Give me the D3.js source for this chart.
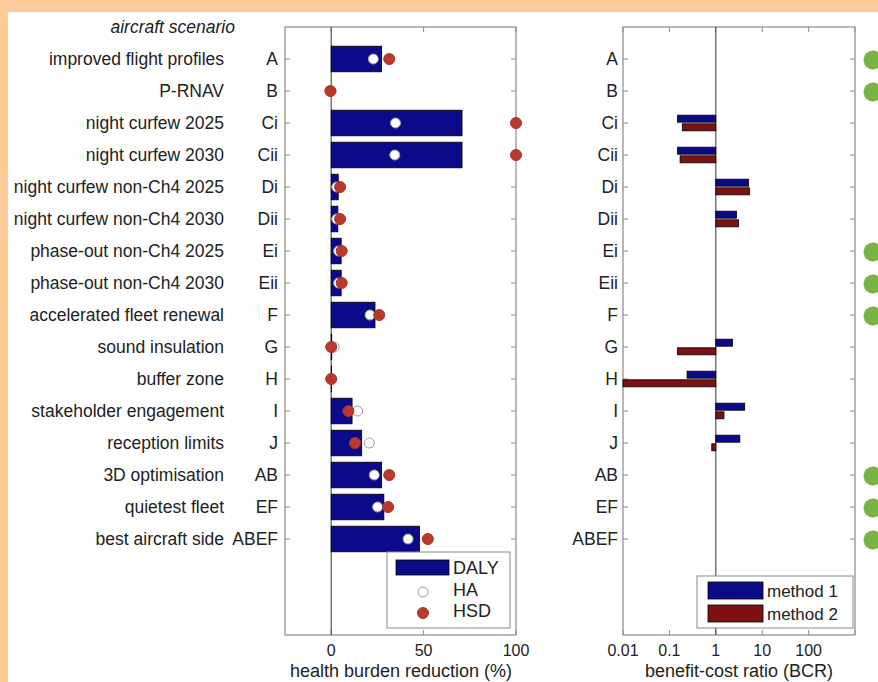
<!DOCTYPE html>
<html>
<head>
<meta charset="utf-8">
<script src="https://cdn.jsdelivr.net/npm/d3@7"></script>
<style>
  html, body { margin: 0; padding: 0; background: #FFCC99; }
  svg { display: block; }
  text { font-family: "Liberation Sans", Arial, Helvetica, sans-serif; fill: #222; }
</style>
</head>
<body>
<svg id="chart" width="878" height="682"></svg>
<script>
// ---------- data ----------
const codes = ['A','B','Ci','Cii','Di','Dii','Ei','Eii','F','G','H','I','J','AB','EF','ABEF'];
const names = ['improved flight profiles','P-RNAV','night curfew 2025','night curfew 2030',
  'night curfew non-Ch4 2025','night curfew non-Ch4 2030','phase-out non-Ch4 2025','phase-out non-Ch4 2030',
  'accelerated fleet renewal','sound insulation','buffer zone','stakeholder engagement',
  'reception limits','3D optimisation','quietest fleet','best aircraft side'];
const daly = [27.3, 0, 70.8, 70.8, 3.8, 3.6, 5.4, 5.4, 23.7, 0.3, 0.2, 11.3, 16.5, 27.3, 28.5, 47.8];
const ha   = [22.8, 0, 34.8, 34.4, 3.0, 3.0, 4.0, 4.0, 21.0, 1.6, 0, 14.3, 20.6, 23.3, 25.1, 41.6];
const hsd  = [31.4, -0.5, 100, 100, 4.8, 4.8, 5.7, 5.7, 26.0, 0, 0, 9.3, 12.9, 31.4, 30.8, 52.3];
const bcr1 = [null, null, 0.15, 0.15, 5.1, 2.8, null, null, null, 2.3, 0.24, 4.2, 3.3, null, null, null];
const bcr2 = [null, null, 0.19, 0.17, 5.3, 3.1, null, null, null, 0.15, 0.01, 1.5, 0.82, null, null, null];
const greenMarks = ['A','B','Ei','Eii','F','AB','EF','ABEF'];
const leftTicks = [0, 50, 100];
const rightTicks = [0.01, 0.1, 1, 10, 100, 1000];
const rightTickLabels = ['0.01','0.1','1','10','100',''];
const legend1 = ['DALY','HA','HSD'];
const legend2 = ['method 1','method 2'];

// ---------- styles ----------
const C = {
  navy: '#0b0b8a', dred: '#7e1010', hsd: '#b83a2e', axis: '#8a8a8a',
  zero: '#555', green: '#78b444', haEdge: '#9a9a9a'
};
const FS = 17.5;
const FT = 16;
const FA = 18;

const svg = d3.select('#chart');
svg.append('rect').attr('x', 8).attr('y', 12).attr('width', 870).attr('height', 670).attr('fill', '#fff');

const yS = d3.scaleLinear().domain([0, 19]).range([27, 635]);
const idx = d3.range(codes.length);
const yc = i => yS(i + 1);
const unit = yS(1) - yS(0);

function frame(g, x0, x1, y0, y1) {
  g.append('rect').attr('x', x0).attr('y', y0).attr('width', x1 - x0).attr('height', y1 - y0)
    .attr('fill', 'none').attr('stroke', C.axis).attr('stroke-width', 1.2);
  idx.forEach(i => {
    const y = yc(i);
    g.append('line').attr('x1', x0).attr('x2', x0 + 5).attr('y1', y).attr('y2', y).attr('stroke', C.axis);
    g.append('line').attr('x1', x1 - 5).attr('x2', x1).attr('y1', y).attr('y2', y).attr('stroke', C.axis);
  });
}

// ---------- left panel ----------
const xL = d3.scaleLinear().domain([-25, 100]).range([285, 516]);
const gL = svg.append('g');
frame(gL, xL.range()[0], xL.range()[1], yS(0), yS(19));
leftTicks.forEach(t => {
  gL.append('line').attr('x1', xL(t)).attr('x2', xL(t)).attr('y1', yS(0)).attr('y2', yS(0) + 5).attr('stroke', C.axis);
  gL.append('line').attr('x1', xL(t)).attr('x2', xL(t)).attr('y1', yS(19)).attr('y2', yS(19) - 5).attr('stroke', C.axis);
  gL.append('text').attr('x', xL(t)).attr('y', 656).attr('text-anchor', 'middle').attr('font-size', FT).text(t);
});
gL.append('line').attr('x1', xL(0)).attr('x2', xL(0)).attr('y1', yS(0)).attr('y2', yS(19))
  .attr('stroke', C.zero).attr('stroke-width', 1.2);

gL.selectAll('rect.daly').data(idx).join('rect').attr('class', 'daly')
  .attr('x', i => Math.min(xL(0), xL(daly[i])))
  .attr('width', i => Math.abs(xL(daly[i]) - xL(0)))
  .attr('y', i => yc(i) - 0.4 * unit).attr('height', 0.8 * unit)
  .attr('fill', C.navy).attr('stroke', '#000').attr('stroke-width', 0.8);
gL.selectAll('circle.ha').data(idx).join('circle').attr('class', 'ha')
  .attr('cx', i => xL(ha[i])).attr('cy', i => yc(i)).attr('r', 5)
  .attr('fill', '#fff').attr('stroke', C.haEdge).attr('stroke-width', 1);
gL.selectAll('circle.hsd').data(idx).join('circle').attr('class', 'hsd')
  .attr('cx', i => xL(hsd[i])).attr('cy', i => yc(i)).attr('r', 5.5)
  .attr('fill', C.hsd).attr('stroke', '#a8342a').attr('stroke-width', 1);

svg.selectAll('text.code').data(idx).join('text').attr('class', 'code')
  .attr('x', 278).attr('y', i => yc(i) + 6).attr('text-anchor', 'end').attr('font-size', FS).text(i => codes[i]);
svg.selectAll('text.name').data(idx).join('text').attr('class', 'name')
  .attr('x', 224).attr('y', i => yc(i) + 6).attr('text-anchor', 'end').attr('font-size', FS).text(i => names[i]);
svg.append('text').attr('x', 235).attr('y', 33).attr('text-anchor', 'end').attr('font-size', 17.5)
  .attr('font-style', 'italic').text('aircraft scenario');
svg.append('text').attr('x', 401).attr('y', 677).attr('text-anchor', 'middle').attr('font-size', FA)
  .text('health burden reduction (%)');

// left legend
const lg = svg.append('g');
lg.append('rect').attr('x', 387).attr('y', 552).attr('width', 123).attr('height', 76)
  .attr('fill', '#fff').attr('stroke', C.axis).attr('stroke-width', 1);
lg.append('rect').attr('x', 396).attr('y', 560).attr('width', 53).attr('height', 15)
  .attr('fill', C.navy).attr('stroke', '#000').attr('stroke-width', 0.8);
lg.append('circle').attr('cx', 423).attr('cy', 592).attr('r', 5).attr('fill', '#fff').attr('stroke', C.haEdge);
lg.append('circle').attr('cx', 423).attr('cy', 613).attr('r', 5.5).attr('fill', C.hsd).attr('stroke', '#a8342a');
legend1.forEach((t, k) => {
  lg.append('text').attr('x', 453).attr('y', 574 + k * 21.5).attr('font-size', 18).text(t);
});

// ---------- right panel ----------
const xR = d3.scaleLog().domain([0.01, 1000]).range([623, 855]);
const gR = svg.append('g');
frame(gR, xR.range()[0], xR.range()[1], yS(0), yS(19));
rightTicks.forEach((t, k) => {
  gR.append('line').attr('x1', xR(t)).attr('x2', xR(t)).attr('y1', yS(0)).attr('y2', yS(0) + 5).attr('stroke', C.axis);
  gR.append('line').attr('x1', xR(t)).attr('x2', xR(t)).attr('y1', yS(19)).attr('y2', yS(19) - 5).attr('stroke', C.axis);
  gR.append('text').attr('x', xR(t)).attr('y', 656).attr('text-anchor', 'middle').attr('font-size', FT).text(rightTickLabels[k]);
});
gR.append('line').attr('x1', xR(1)).attr('x2', xR(1)).attr('y1', yS(0)).attr('y2', yS(19))
  .attr('stroke', C.zero).attr('stroke-width', 1.2);

const series = [{v: bcr1, c: C.navy, off: -0.135}, {v: bcr2, c: C.dred, off: 0.135}];
series.forEach(s => {
  gR.selectAll(null).data(idx.filter(i => s.v[i] != null)).join('rect')
    .attr('x', i => Math.min(xR(1), xR(s.v[i])))
    .attr('width', i => Math.abs(xR(s.v[i]) - xR(1)))
    .attr('y', i => yS(i + 1 + s.off) - 0.11 * unit).attr('height', 0.22 * unit)
    .attr('fill', s.c).attr('stroke', '#000').attr('stroke-width', 0.8);
});

svg.selectAll('text.code2').data(idx).join('text').attr('class', 'code2')
  .attr('x', 618).attr('y', i => yc(i) + 6).attr('text-anchor', 'end').attr('font-size', FS).text(i => codes[i]);
svg.append('text').attr('x', 739).attr('y', 677).attr('text-anchor', 'middle').attr('font-size', FA)
  .text('benefit-cost ratio (BCR)');

// right legend
const rg = svg.append('g');
rg.append('rect').attr('x', 697).attr('y', 576).attr('width', 156).attr('height', 52)
  .attr('fill', '#fff').attr('stroke', C.axis).attr('stroke-width', 1);
legend2.forEach((t, k) => {
  rg.append('rect').attr('x', 708).attr('y', 582 + k * 23).attr('width', 55).attr('height', 17)
    .attr('fill', k === 0 ? C.navy : C.dred).attr('stroke', '#000').attr('stroke-width', 0.8);
  rg.append('text').attr('x', 767).attr('y', 597 + k * 23).attr('font-size', 17).text(t);
});

// green markers
svg.selectAll('circle.green').data(greenMarks).join('circle').attr('class', 'green')
  .attr('cx', 873).attr('cy', d => yc(codes.indexOf(d)) + 1).attr('r', 9.5).attr('fill', C.green);
</script>
</body>
</html>
